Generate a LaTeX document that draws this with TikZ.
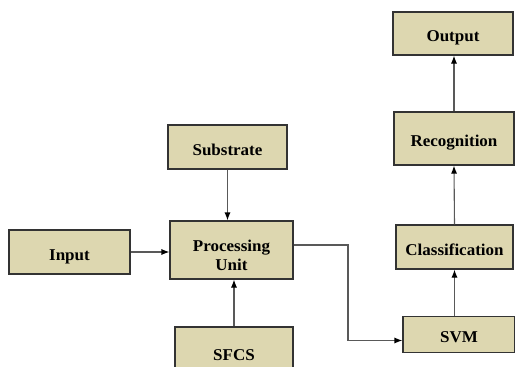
\documentclass[tikz,border=0pt]{standalone}
\usepackage{fontspec}
\setmainfont{Liberation Serif}[FakeStretch=1.03]
\usetikzlibrary{arrows.meta}
\definecolor{boxtan}{RGB}{221,215,176}
\tikzset{
	blockbox/.style={draw=black!80, line width=1.1pt, fill=boxtan, inner sep=0pt, align=center,
		text height=16pt, text depth=0pt, font=\fontsize{16.5}{18.5}\selectfont\bfseries},
	conn/.style={draw=black!65, line width=1.1pt, -{Latex[length=8pt,width=6pt,black]}}
}
\begin{document}
\begin{tikzpicture}[x=1pt, y=-1pt]
			%%%%% START %%%%%
			\useasboundingbox (0, 0) rectangle (515, 367);
			
			\node[blockbox, minimum width=121pt, minimum height=44pt] (input) at (69.5, 252) {Input};
			\node[blockbox, minimum width=119pt, minimum height=44pt] (substrate) at (227.5, 147) {Substrate};
			\node[blockbox, minimum width=123pt, minimum height=58pt, text height=40pt] (proc) at (231.5, 250) {Processing\\Unit};
			\node[blockbox, minimum width=118pt, minimum height=50pt] (sfcs) at (234, 352) {SFCS};
			
			\node[blockbox, minimum width=120pt, minimum height=43pt] (output) at (453, 33.5) {Output};
			\node[blockbox, minimum width=120pt, minimum height=53pt] (recog) at (454, 138.5) {Recognition};
			\node[blockbox, minimum width=117pt, minimum height=44pt] (classif) at (454.5, 247) {Classification};
			\node[blockbox, minimum width=112pt, minimum height=36pt] (svm) at (459, 334.5) {SVM};
			
			\coordinate (bend) at (348, 300);
			
			\draw[conn] (substrate.south) -- (substrate.south |- proc.north);
			\draw[conn] (input.east) -- (proc.west |- input.east);
			\draw[conn] (sfcs.north) -- (sfcs.north |- proc.south);
			\draw[conn] ([yshift=5pt]proc.east) -| (bend) |- ([yshift=-6pt]svm.west);
			
			\draw[conn] (classif.south |- svm.north) -- (classif.south);
			\draw[conn] (classif.north) -- (recog.south);
			\draw[conn] (recog.north) -- (output.south -| recog.north);
			
			%%%%% END %%%%%
\end{tikzpicture}
\end{document}
